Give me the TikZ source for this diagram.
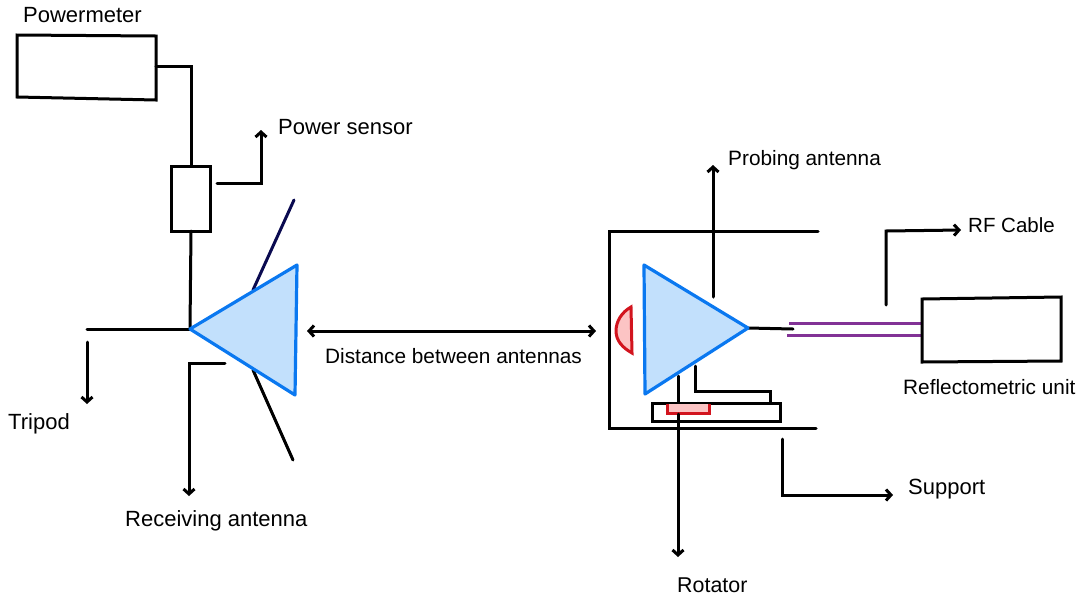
\documentclass[tikz,border=0pt]{standalone}
\usepackage{fontspec}
\setmainfont{Liberation Sans}
\usetikzlibrary{arrows.meta}
\definecolor{bluefill}{RGB}{194,224,252}
\definecolor{blueline}{RGB}{10,120,240}
\definecolor{redline}{RGB}{210,20,30}
\definecolor{redfill}{RGB}{252,196,196}
\definecolor{purpleline}{RGB}{130,50,150}
\definecolor{navyline}{RGB}{10,10,80}
\tikzset{
  x=1pt,y=-1pt,
  wire/.style={draw=black,line width=3pt,line cap=round,line join=miter},
  arrowwire/.style={wire,-{Straight Barb[length=5pt,width=11pt,line width=3pt]}},
  dblarrow/.style={wire,{Straight Barb[length=5pt,width=11pt,line width=3pt]}-{Straight Barb[length=5pt,width=11pt,line width=3pt]}},
  horn/.style={draw=blueline,fill=bluefill,line width=3.2pt,line join=round},
  lab/.style={inner sep=0pt,font=\fontsize{#1}{24pt}\selectfont,anchor=base west},
  lab/.default={20.8pt},
  redpart/.style={draw=redline,fill=redfill,line width=3pt,line join=miter},
  cable/.style={draw=purpleline,line width=3pt}
}
\begin{document}
\begin{tikzpicture}
\useasboundingbox (0,0) rectangle (1090,598);
% labels
\node[lab=22pt] (tPower) at (23,22) {Powermeter};
\node[lab=22pt] (tSensor) at (278,134) {Power sensor};
\node[lab=22pt] (tTripod) at (8,429) {Tripod};
\node[lab=22pt] (tRecv) at (125,526) {Receiving antenna};
\node[lab] (tDist) at (325,363) {Distance between antennas};
\node[lab] (tProbe) at (728,165) {Probing antenna};
\node[lab=20.5pt] (tRF) at (968,232) {RF Cable};
\node[lab] (tUnit) at (903,394) {Reflectometric unit};
\node[lab=22pt] (tSupport) at (908,494) {Support};
\node[lab=21.4pt] (tRot) at (677,592) {Rotator};
% left side
\draw[wire] (17,35) -- (156,36) -- (156,100) -- (17,97) -- cycle;
\coordinate (pmOut) at (156,66);
\draw[wire] (171,166) rectangle (210,231);
\coordinate (sensTop) at (191,166);
\coordinate (sensBot) at (191,231);
\coordinate (rxApex) at (190,329);
\draw[wire] (pmOut) -- (191,66) -- (sensTop);
\draw[wire] (sensBot) -- (rxApex);
\draw[wire] (87,329) -- (rxApex);
\draw[wire,draw=navyline] (253,290) -- (294,200);
\draw[wire] (253,370) -- (293,460);
\draw[horn] (rxApex) -- (297,265) -- (295,395) -- cycle;
\coordinate (sA) at (217,183);
\coordinate (sB) at (261,130);
\draw[arrowwire] (sA) -- (261,183) -- (sB);
\coordinate (tA) at (87,342);
\coordinate (tB) at (87,404);
\draw[arrowwire] (tA) -- (tB);
\coordinate (rA) at (225,363);
\coordinate (rB) at (189,496);
\draw[arrowwire] (rA) -- (189,363) -- (rB);
\coordinate (dA) at (307,331);
\coordinate (dB) at (596,331);
\draw[dblarrow] (dA) -- (dB);
% right side
\draw[wire] (818,231) -- (609,231) -- (609,428) -- (816,428);
\coordinate (pA) at (713,297);
\coordinate (pB) at (713,165);
\draw[arrowwire] (pA) -- (pB);
\draw[wire] (652,403) rectangle (780,421);
\coordinate (rotA) at (678,376);
\coordinate (rotB) at (678,557);
\draw[arrowwire] (rotA) -- (rotB);
\draw[wire] (695,366) -- (695,391) -- (770,391) -- (770,403);
\draw[redpart] (667,404) -- (667,413) -- (709,413) -- (709,404);
\fill[redfill] (668.5,404.5) rectangle (707.5,411.5);
\draw[wire] (678,414) -- (678,430);
\draw[redpart] (631,307) .. controls (622,312) and (616,321) .. (616,331) .. controls (616,341) and (623,348) .. (632,353) -- cycle;
\coordinate (txApex) at (748,328);
\draw[wire] (txApex) -- (793,329);
\draw[horn] (644,265) -- (txApex) -- (645,394) -- cycle;
\draw[cable] (789,323) -- (921,323);
\draw[cable] (787,335) -- (921,335);
\draw[wire] (922,299) -- (1061,297) -- (1061,361) -- (922,362) -- cycle;
\coordinate (cA) at (886,305);
\coordinate (cB) at (961,230);
\draw[arrowwire] (cA) -- (886,231) -- (cB);
\coordinate (supA) at (782,439);
\coordinate (supB) at (893,495);
\draw[arrowwire] (supA) -- (782,495) -- (supB);
\end{tikzpicture}
\end{document}
